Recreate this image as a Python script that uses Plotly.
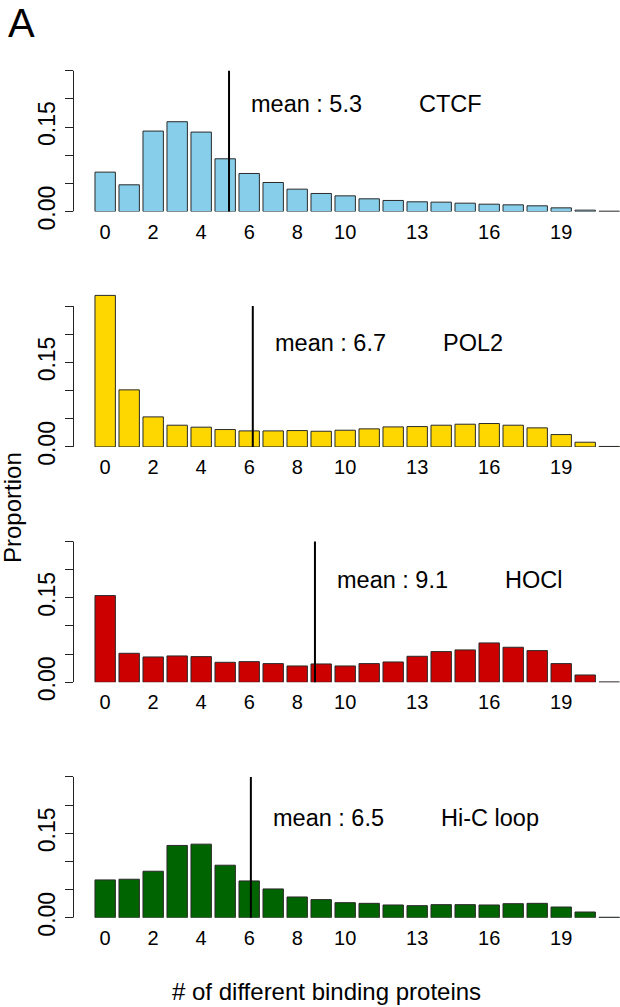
import plotly.graph_objects as go

# ---------------- data ----------------
counts = list(range(22))  # number of different binding proteins (0..21)
x_tick_vals = [0, 2, 4, 6, 8, 10, 13, 16, 19]
x_tick_text = ["0", "2", "4", "6", "8", "10", "13", "16", "19"]
y_tick_vals = [0.0, 0.05, 0.10, 0.15, 0.20, 0.25]
y_tick_text = ["0.00", "", "", "0.15", "", ""]

ctcf = [0.0699, 0.0474, 0.1428, 0.1594, 0.1410, 0.0936, 0.0675, 0.0515, 0.0397, 0.0320,
        0.0278, 0.0225, 0.0196, 0.0172, 0.0166, 0.0148, 0.0130, 0.0118, 0.0101, 0.0065,
        0.0024, 0.0006]
pol2 = [0.2690, 0.1013, 0.0533, 0.0385, 0.0350, 0.0308, 0.0284, 0.0284, 0.0290, 0.0278,
        0.0296, 0.0320, 0.0355, 0.0361, 0.0385, 0.0403, 0.0415, 0.0385, 0.0338, 0.0219,
        0.0083, 0.0008]
hocl = [0.1540, 0.0515, 0.0450, 0.0468, 0.0456, 0.0355, 0.0367, 0.0332, 0.0290, 0.0326,
        0.0290, 0.0332, 0.0361, 0.0462, 0.0545, 0.0575, 0.0699, 0.0622, 0.0563, 0.0332,
        0.0130, 0.0006]
hic = [0.0671, 0.0683, 0.0825, 0.1283, 0.1306, 0.0932, 0.0653, 0.0511, 0.0368, 0.0321,
       0.0267, 0.0255, 0.0226, 0.0214, 0.0232, 0.0232, 0.0226, 0.0249, 0.0255, 0.0190,
       0.0101, 0.0008]

series_values = [ctcf, pol2, hocl, hic]
series_names = ["CTCF", "POL2", "HOCl", "Hi-C loop"]
series_colors = ["#87CEEB", "#FFD700", "#CD0000", "#006400"]
mean_labels = ["mean : 5.3", "mean : 6.7", "mean : 9.1", "mean : 6.5"]
mean_line_pos = [5.16, 6.15, 8.74, 6.07]      # position of the vertical line (bar index units)
label_y = [0.190, 0.184, 0.182, 0.177]

# ---------------- layout geometry ----------------
W = 620
REF_H = 1007
H = 1026                        # page height that ends up photographed into 1007 px
S = H / REF_H


def ypx(p):
    """reference pixel row -> page pixel row"""
    return p * S


FONT = "Liberation Sans, Arial, Helvetica, sans-serif"
axis_px = 73.5                 # x pixel of the y axis
zero_px = [211.5, 446.9, 682.3, 917.7]   # reference pixel row of 0 for each panel
px_per_unit = 140.8 * S / 0.25
y_top = 0.28
x_range = [-1.32, 21.45]

fig = go.Figure()
layout = dict(
    width=W, height=H,
    margin=dict(l=0, r=0, t=0, b=0),
    paper_bgcolor="white", plot_bgcolor="white",
    showlegend=False,
    bargap=0.15,
    font=dict(family=FONT, color="black"),
)
shapes = []
annotations = []

for i, (vals, name, col, ml, mpos, ly) in enumerate(
        zip(series_values, series_names, series_colors, mean_labels, mean_line_pos, label_y)):
    n = "" if i == 0 else str(i + 1)
    xa, ya = "x" + n, "y" + n
    fig.add_trace(go.Bar(
        x=counts, y=vals, xaxis=xa, yaxis=ya,
        marker=dict(color=col, line=dict(color="#2a2a2a", width=1)),
        hoverinfo="x+y",
    ))
    z = ypx(zero_px[i])
    bottom = (H - z) / H
    top = (H - z + y_top * px_per_unit) / H
    layout["xaxis" + n] = dict(
        domain=[axis_px / W, 1.0], range=x_range, anchor=ya,
        showgrid=False, zeroline=False, showline=False,
        tickmode="array", tickvals=x_tick_vals, ticktext=x_tick_text,
        ticks="outside", ticklen=2, tickcolor="rgba(0,0,0,0)",
        tickfont=dict(family=FONT, size=20, color="black"),
    )
    layout["yaxis" + n] = dict(
        domain=[bottom, top], range=[0, y_top], anchor=xa,
        showgrid=False, zeroline=False, showline=False,
        tickmode="array", tickvals=y_tick_vals, ticktext=y_tick_text,
        ticks="outside", ticklen=8, tickcolor="#222", tickwidth=1,
        tickangle=-90,
        tickfont=dict(family=FONT, size=23, color="black"),
    )
    shapes.append(dict(type="line", xref="paper", yref=ya,
                       x0=axis_px / W, x1=axis_px / W, y0=0, y1=0.25,
                       line=dict(color="#222", width=1)))
    shapes.append(dict(type="line", xref=xa, yref=ya,
                       x0=mpos, x1=mpos, y0=-0.004, y1=0.25,
                       line=dict(color="black", width=2)))
    annotations.append(dict(xref=xa, yref=ya, x=mpos + 0.85, y=ly,
                            text=ml, showarrow=False, xanchor="left", yanchor="middle",
                            font=dict(family=FONT, size=23.5, color="black")))
    annotations.append(dict(xref=xa, yref=ya, x=mpos + 7.85, y=ly,
                            text=name, showarrow=False, xanchor="left", yanchor="middle",
                            font=dict(family=FONT, size=23.5, color="black")))

annotations.append(dict(xref="paper", yref="paper", x=21.5 / W, y=1 - ypx(23) / H,
                        text="A", showarrow=False, xanchor="center", yanchor="middle",
                        font=dict(family=FONT, size=40, color="black")))
annotations.append(dict(xref="paper", yref="paper", x=326.5 / W, y=1 - ypx(991) / H,
                        text="# of different binding proteins", showarrow=False,
                        xanchor="center", yanchor="middle",
                        font=dict(family=FONT, size=24, color="black")))
annotations.append(dict(xref="paper", yref="paper", x=13 / W, y=1 - ypx(508) / H,
                        text="Proportion", showarrow=False, textangle=-90,
                        xanchor="center", yanchor="middle",
                        font=dict(family=FONT, size=24, color="black")))

layout["shapes"] = shapes
layout["annotations"] = annotations
fig.update_layout(**layout)
fig.write_html("out.html")
